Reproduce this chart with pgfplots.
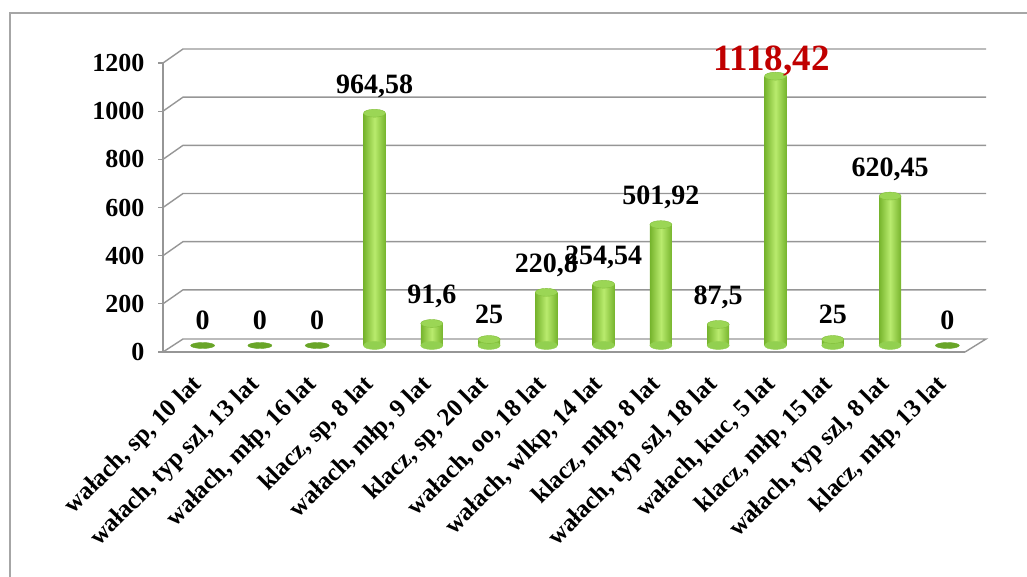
\documentclass[border=0pt]{standalone}
\usepackage{fontspec}
\setmainfont{Liberation Serif}
\usepackage{pgfplots}
\pgfplotsset{compat=1.18}
\definecolor{gridc}{RGB}{150,150,150}
\definecolor{barDark}{RGB}{118,180,45}
\definecolor{barMid}{RGB}{146,208,80}
\definecolor{barLight}{RGB}{185,235,110}
\definecolor{topc}{RGB}{155,214,85}
\definecolor{zeroc}{RGB}{105,165,40}
\definecolor{redlab}{RGB}{192,0,0}
\begin{document}
\begin{tikzpicture}
\path[use as bounding box] (0,0) rectangle (1027pt,576pt);
\draw[gray!70, line width=1.2pt] (10pt,-20pt) -- (10pt,563pt) -- (1050pt,563pt);
\begin{axis}[
  at={(163pt,224pt)}, anchor=south west,
  scale only axis, width=802pt, height=289pt,
  xmin=-0.5, xmax=13.5, ymin=0, ymax=1200,
  clip=false,
  axis x line*=bottom, axis y line*=left,
  axis line style={gridc, line width=1.4pt},
  every tick/.style={gridc, line width=1.2pt},
  tick align=outside,
  ytick={0,200,...,1200},
  major tick length=5pt,
  xtick={0,...,13},
  x tick style={draw=none},
  minor xtick={-0.5,0.5,...,13.5},
  minor tick length=8pt,
  xticklabels={{wałach, sp, 10 lat},{wałach, typ szl, 13 lat},{wałach, młp, 16 lat},{klacz, sp, 8 lat},{wałach, młp, 9 lat},{klacz, sp, 20 lat},{wałach, oo, 18 lat},{wałach, wlkp, 14 lat},{klacz, młp, 8 lat},{wałach, typ szl, 18 lat},{wałach, kuc, 5 lat},{klacz, młp, 15 lat},{wałach, typ szl, 8 lat},{klacz, młp, 13 lat}},
  xticklabel style={rotate=45, anchor=east, font=\fontsize{25}{28}\selectfont\bfseries, xshift=-11pt, yshift=-22pt, inner sep=1pt},
  yticklabel style={font=\fontsize{26}{28}\selectfont\bfseries, xshift=-10pt},
  /pgf/number format/assume math mode=true,
  /pgf/number format/1000 sep={},
  cyl/.style={ybar, bar width=22pt, bar shift=0pt, draw=none, left color=barDark, right color=barDark, middle color=barLight, xshift=11pt, yshift=6.5pt},
]
\pgfplotsinvokeforeach{200,400,...,1200}{
  \draw[gridc, line width=1.4pt] (axis cs:-0.5,#1) -- ++(20pt,14pt) -- ([shift={(21pt,14pt)}]axis cs:13.5,#1);
}
\draw[gridc, line width=1.4pt] (axis cs:-0.5,0) -- ++(20pt,13pt) -- ([shift={(21pt,13pt)}]axis cs:13.5,0) -- (axis cs:13.5,0);

% bottom ellipses of cylinders
\addplot[only marks, mark=*, mark size=11pt, mark options={yscale=0.36, fill=barMid, draw=barMid}, xshift=11pt, yshift=6.5pt]
 coordinates {(3,0)(4,0)(5,0)(6,0)(7,0)(8,0)(9,0)(10,0)(11,0)(12,0)};
% cylinder bodies
\addplot[cyl] coordinates {(3,964.58)};
\addplot[cyl] coordinates {(4,91.6)};
\addplot[cyl] coordinates {(5,25)};
\addplot[cyl] coordinates {(6,220.8)};
\addplot[cyl] coordinates {(7,254.54)};
\addplot[cyl] coordinates {(8,501.92)};
\addplot[cyl] coordinates {(9,87.5)};
\addplot[cyl] coordinates {(10,1118.42)};
\addplot[cyl] coordinates {(11,25)};
\addplot[cyl] coordinates {(12,620.45)};
% top ellipses
\addplot[only marks, mark=*, mark size=11pt, mark options={yscale=0.36, fill=topc, draw=barDark!70!topc, line width=0.4pt}, xshift=11pt, yshift=6.5pt]
 coordinates {(3,964.58)(4,91.6)(5,25)(6,220.8)(7,254.54)(8,501.92)(9,87.5)(10,1118.42)(11,25)(12,620.45)};
% zero-value discs
\addplot[only marks, mark=*, mark size=12pt, mark options={yscale=0.25, fill=zeroc, draw=zeroc}, xshift=11pt, yshift=6.5pt]
 coordinates {(0,0)(1,0)(2,0)(13,0)};
% value labels
\addplot[only marks, mark=none, xshift=11pt, yshift=6.5pt,
  point meta=explicit symbolic, nodes near coords,
  every node near coord/.style={anchor=south, yshift=12pt, font=\fontsize{28}{30}\selectfont\bfseries, black}]
 coordinates {(0,0)[0](1,0)[0](2,0)[0](3,964.58)[964,58](4,91.6)[91,6](5,25)[25](6,220.8)[220,8](7,254.54)[254,54](8,501.92)[501,92](9,87.5)[87,5](11,25)[25](12,620.45)[620,45](13,0)[0]};
\addplot[only marks, mark=none, xshift=7pt, yshift=6.5pt,
  point meta=explicit symbolic, nodes near coords,
  every node near coord/.style={anchor=south, yshift=-4pt, font=\fontsize{37}{40}\selectfont\bfseries, text=redlab}]
 coordinates {(10,1118.42)[1118,42]};
\end{axis}
\end{tikzpicture}
\end{document}
